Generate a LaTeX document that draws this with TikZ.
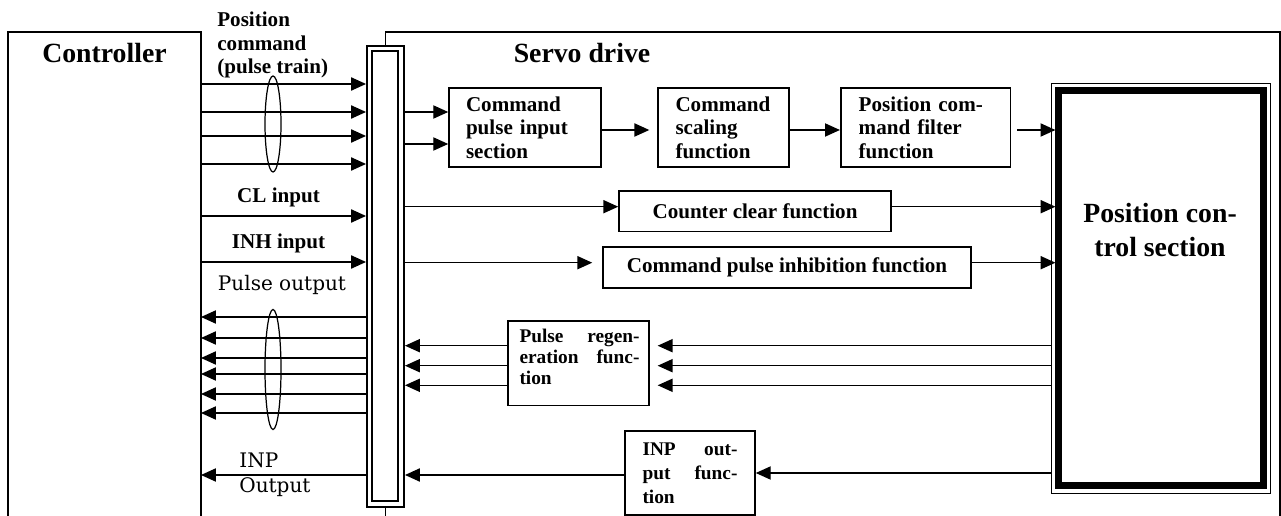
\documentclass[tikz,border=0pt]{standalone}
\usepackage{fontspec}
\newfontfamily\tnr{Liberation Serif}[BoldFont={Liberation Serif Bold}]
\newfontfamily\schoolfont{DejaVu Serif}
\usetikzlibrary{arrows.meta,shapes.geometric}

\begin{document}
\begin{tikzpicture}
[x=0.02cm,y=-0.02cm,
  boxdecorate/.style={draw,line width=0.9pt,inner sep=0pt,font=\tnr\bfseries\fontsize{12}{13.4}\selectfont},
  smallboxdecorate/.style={boxdecorate,font=\tnr\bfseries\fontsize{11}{12}\selectfont},
  labeldecorate/.style={inner sep=0pt,font=\tnr\bfseries\fontsize{12}{13.6}\selectfont},
  titledecorate/.style={inner sep=0pt,font=\tnr\bfseries\fontsize{15.8}{19.3}\selectfont},
  plaindecorate/.style={inner sep=0pt,font=\schoolfont\fontsize{11.4}{14}\selectfont},
  linedecorate/.style={-{Triangle[length=8.5pt,width=7.5pt]},line width=0.8pt},
  bundledecorate/.style={draw,ellipse,inner sep=0pt,line width=0.7pt}]
\useasboundingbox (0,0) rectangle (1281,516);
%% controller and servo drive frames
\draw[line width=0.9pt] (8,516) -- (8,32) -- (201,32) -- (201,516);
\coordinate (ctrlR) at (201,32);
\node (ctrl) at (104.5,53) [titledecorate] {Controller};
\node (bus) at (385.5,276.5) [draw,line width=1.1pt,minimum width=0.74cm,minimum height=9.22cm,inner sep=0pt] {};
\node (businner) at (385,276) [draw,line width=1.1pt,minimum width=0.52cm,minimum height=9cm,inner sep=0pt] {};
\coordinate (servoTR) at (1280,32);
\draw[line width=0.8pt] (bus.north) |- (servoTR) -- (servoTR |- 0,516);
\draw[line width=0.8pt] (bus.south) -- (bus.south |- 0,516);
\node (servo) at (582,53) [titledecorate] {Servo drive};
%% function blocks
\node (cmdin) at (525,127.5) [boxdecorate,minimum width=3.04cm,minimum height=1.58cm,text width=2.36cm,align=left] {Command\\pulse input\\section};
\node (scale) at (723.5,127.5) [boxdecorate,minimum width=2.62cm,minimum height=1.58cm,text width=1.92cm,align=left] {Command\\scaling\\function};
\node (filter) at (925.7,127.5) [boxdecorate,minimum width=3.4cm,minimum height=1.58cm,text width=2.68cm,align=left] {Position com-\\mand filter\\function};
\node (clear) at (755,211.3) [boxdecorate,minimum width=5.44cm,minimum height=0.81cm] {Counter clear function};
\node (inhibit) at (787,267.5) [boxdecorate,minimum width=7.36cm,minimum height=0.82cm] {Command pulse inhibition function};
\node (regen) at (578.5,363.3) [boxdecorate,minimum width=2.82cm,minimum height=1.69cm] {};
\node (regenlabel) at (579.5,357) [smallboxdecorate,draw=none,text width=2.4cm,align=left] {Pulse\hfill regen-\\eration\hfill func-\\tion};
\node (inp) at (690,473) [smallboxdecorate,font=\tnr\bfseries\fontsize{11}{13.6}\selectfont,minimum width=2.6cm,minimum height=1.68cm,text width=1.9cm,align=left] {INP\hfill out-\\put\hfill func-\\tion};
%% position control section
\node (pcsout) at (1161.2,288.3) [draw,line width=0.8pt,minimum width=4.38cm,minimum height=8.2cm,inner sep=0pt] {};
\node (pcs) at (1161.2,288) [draw,line width=4pt,minimum width=4.09cm,minimum height=7.9cm,inner sep=0pt] {};
\node (pcstext) at (1160,230) [titledecorate,align=center] {Position con-\\trol section};
%% signal labels
\node (poscmd) at (217,45) [labeldecorate,anchor=west,align=left] {Position\\command\\(pulse train)};
\node (clin) at (278.5,197) [labeldecorate] {CL input};
\node (inhin) at (278.5,243) [labeldecorate] {INH input};
\node (pout) at (282,285) [plaindecorate] {Pulse output};
\node (inpout) at (239,474.5) [plaindecorate,anchor=west,align=left] {INP\\Output};
\node (inbundle) at (273,124) [bundledecorate,minimum width=0.32cm,minimum height=1.92cm] {};
\node (outbundle) at (273,369.5) [bundledecorate,minimum width=0.32cm,minimum height=2.4cm] {};
%% controller side lines
\foreach \y in {84,112,136,164,216,262}
  \draw[linedecorate] (ctrlR |- 0,\y) -- (bus.west |- 0,\y);
\foreach \y in {317,338,358,374,394,413,475}
  \draw[linedecorate] (bus.west |- 0,\y) -- (ctrlR |- 0,\y);
%% servo drive side lines
\foreach \y in {112,144}
  \draw[linedecorate] (bus.east |- 0,\y) -- (cmdin.west |- 0,\y);
\draw[linedecorate,shorten >=4.5pt] (cmdin.east |- 0,130) -- (scale.west |- 0,130);
\draw[linedecorate] (scale.east |- 0,130) -- (filter.west |- 0,130);
\draw[linedecorate,shorten <=3.4pt] (filter.east |- 0,130) -- (pcs.west |- 0,130);
\draw[linedecorate] (bus.east |- 0,206.7) -- (clear.west |- 0,206.7);
\draw[linedecorate] (clear.east |- 0,206.7) -- (pcs.west |- 0,206.7);
\draw[linedecorate,shorten >=5.7pt] (bus.east |- 0,262.7) -- (inhibit.west |- 0,262.7);
\draw[linedecorate] (inhibit.east |- 0,262.7) -- (pcs.west |- 0,262.7);
\foreach \y in {345.7,365.7,385.3} {
  \draw[linedecorate] (regen.west |- 0,\y) -- (bus.east |- 0,\y);
  \draw[linedecorate,shorten >=4.5pt] (pcsout.west |- 0,\y) -- (regen.east |- 0,\y);
}
\draw[linedecorate] (inp.west |- 0,475) -- (bus.east |- 0,475);
\draw[linedecorate] (pcsout.west |- 0,473) -- (inp.east |- 0,473);
\end{tikzpicture}
\end{document}
